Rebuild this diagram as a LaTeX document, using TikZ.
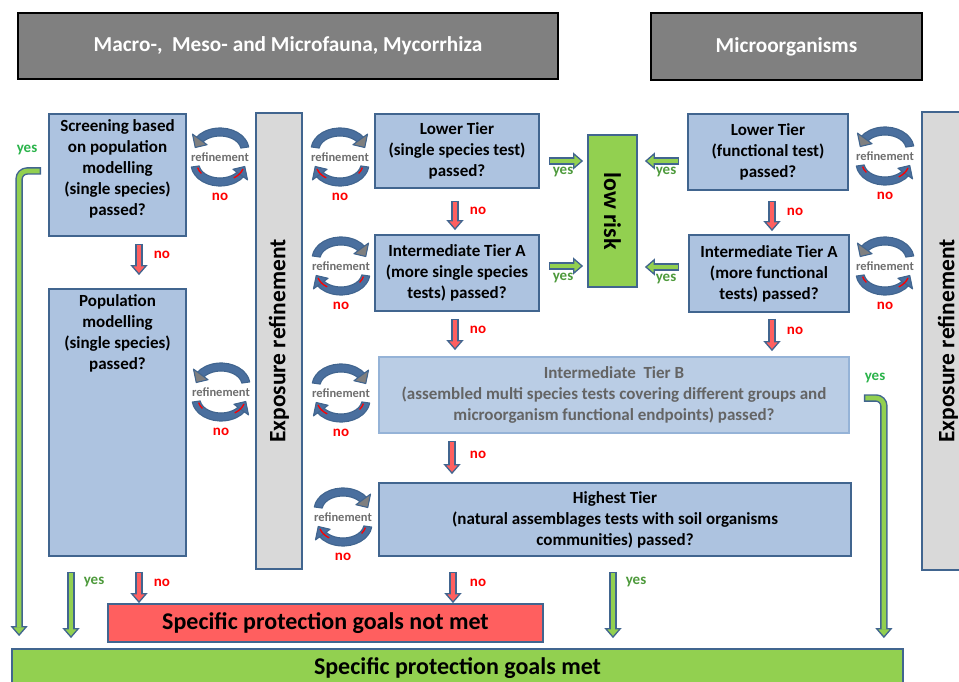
\documentclass[tikz,border=0pt]{standalone}
\usepackage{fontspec}
\setmainfont{Carlito}
\usepackage{graphicx}
\usepackage{tikz}
\usetikzlibrary{arrows.meta,calc,positioning}
\usepackage{xcolor}
\definecolor{edgeblue}{HTML}{41658F}
\definecolor{loopblue}{HTML}{4A6F9E}
\definecolor{boxblue}{HTML}{ADC3E0}
\definecolor{paleblue}{HTML}{BACDE5}
\definecolor{paleedge}{HTML}{95B3D7}
\definecolor{tiergray}{HTML}{646464}
\definecolor{riskgreen}{HTML}{92D050}
\definecolor{notred}{HTML}{FF5F5F}
\definecolor{bargray}{HTML}{D9D9D9}
\definecolor{headgray}{HTML}{808080}
\definecolor{yesgreen}{HTML}{4E9A3C}
\definecolor{yesbright}{HTML}{2BB34B}
\definecolor{loopgray}{HTML}{7F7F7F}
\definecolor{reftext}{HTML}{6E6E6E}
\tikzstyle{tierbox}=[draw=edgeblue, fill=boxblue, line width=1.8pt, align=center, inner sep=0pt, font=\bfseries\fontsize{17}{21}\selectfont]
\tikzstyle{paletier}=[tierbox, draw=paleedge, fill=paleblue, text=tiergray]
\tikzstyle{headbox}=[draw=black, fill=headgray, line width=1.6pt, text=white, font=\bfseries\fontsize{21.3}{25}\selectfont]
\tikzstyle{expbar}=[draw=edgeblue, fill=bargray, line width=1.8pt, inner sep=0pt, font=\bfseries\fontsize{23.5}{27}\selectfont]
\tikzstyle{goalbox}=[draw=edgeblue, line width=1.8pt, inner sep=0pt, font=\bfseries\fontsize{24}{28}\selectfont]
\tikzstyle{nolabel}=[text=red, inner sep=0pt, font=\bfseries\fontsize{15}{18}\selectfont]
\tikzstyle{yeslabel}=[text=yesgreen, inner sep=0pt, font=\bfseries\fontsize{15}{18}\selectfont]
\tikzstyle{reflabel}=[text=reftext, inner sep=0pt, font=\bfseries\fontsize{12.5}{15}\selectfont]
\tikzstyle{loopedge}=[draw=edgeblue, line width=1.1pt, line join=round]
% fat outlined arrow along a path
\newcommand{\fatpath}[3][]{
	\draw[#1, line width=7.5pt, draw=edgeblue, -{Triangle[length=10pt, width=17pt, line width=1.3pt, fill=#2]}] #3;
	\draw[#1, line width=4.6pt, draw=#2, shorten <=1.4pt, shorten >=8.5pt] #3;
}
% refinement cycle: #1 name, #2 x, #3 y, #4 1 anticlockwise / -1 clockwise
\newcommand{\refloop}[4]{
	\begin{scope}[shift={(#2,#3)}, yscale=-1, xscale=#4]
		\begin{scope}[shift={(0,7)}]
			\filldraw[loopedge, fill=loopblue] (8:29 and 22) arc[start angle=8, end angle=146, x radius=29, y radius=22]
				-- (146:21 and 14) arc[start angle=146, end angle=8, x radius=21, y radius=14] -- cycle;
			\filldraw[loopedge, fill=loopgray] (144:34 and 27) -- (172:25 and 18) -- (144:16 and 9) -- cycle;
		\end{scope}
		\begin{scope}[shift={(0,-7)}]
			\filldraw[loopedge, fill=loopblue] (188:29 and 22) arc[start angle=188, end angle=326, x radius=29, y radius=22]
				-- (326:21 and 14) arc[start angle=326, end angle=188, x radius=21, y radius=14] -- cycle;
			\filldraw[loopedge, fill=loopblue] (324:34 and 27) -- (352:25 and 18) -- (324:16 and 9) -- cycle;
			\draw[red, line width=1.3pt] (193:23 and 16) arc[start angle=193, end angle=216, x radius=23, y radius=16];
			\draw[red, line width=1.3pt] (305:24 and 17) arc[start angle=305, end angle=343, x radius=24, y radius=17];
		\end{scope}
	\end{scope}
	\node[reflabel] (#1) at (#2,#3) {refinement};
	\node[nolabel] (#1no) at (#2,#3+40) {no};
}

\begin{document}
\begin{tikzpicture}[x=1pt,y=-1pt]
	\useasboundingbox (0,0) rectangle (959,682);
	\clip (0,0) rectangle (959,682);
	% headers
	\node[headbox, minimum width=540pt, minimum height=66pt] (fauna) at (288,46) {Macro-,\ \ Meso- and Microfauna, Mycorrhiza};
	\node[headbox, minimum width=271pt, minimum height=67pt] (micro) at (786.5,46.5) {Microorganisms};
	% left column
	\node[tierbox, minimum width=137pt, minimum height=122pt] (scr) at (117.5,175) {};
	\node[tierbox, draw=none, fill=none, below=6pt of scr.north] (scrtxt) {Screening based\\on population\\modelling\\(single species)\\passed?};
	\node[tierbox, minimum width=137pt, minimum height=267pt] (pop) at (117.5,422.5) {};
	\node[tierbox, draw=none, fill=none, below=6pt of pop.north] (poptxt) {Population\\modelling\\(single species)\\passed?};
	\node[expbar, minimum width=46pt, minimum height=456pt] (expL) at (279,341) {\rotatebox{90}{Exposure refinement}};
	% tiers
	\node[tierbox, minimum width=164pt, minimum height=74pt] (lowL) at (457,151) {Lower Tier\\(single species test)\\passed?};
	\node[tierbox, minimum width=164pt, minimum height=76pt] (intAL) at (457,273) {Intermediate Tier A\\(more single species\\tests) passed?};
	\node[tierbox, fill=riskgreen, minimum width=49pt, minimum height=152pt, font=\bfseries\fontsize{24}{28}\selectfont] (risk) at (612.5,211) {\rotatebox{-90}{low risk}};
	\node[tierbox, minimum width=160pt, minimum height=76pt] (lowR) at (768,152) {Lower Tier\\(functional test)\\passed?};
	\node[tierbox, minimum width=160pt, minimum height=77pt] (intAR) at (769,273.5) {Intermediate Tier A\\(more functional\\tests) passed?};
	\node[paletier, minimum width=470pt, minimum height=76pt] (intB) at (614,395) {Intermediate\ \ Tier B\\(assembled multi species tests covering different groups and\\microorganism functional endpoints) passed?};
	\node[tierbox, minimum width=472pt, minimum height=73pt] (high) at (615,519.5) {Highest Tier\\(natural assemblages tests with soil organisms\\communities) passed?};
	\node[expbar, minimum width=52pt, minimum height=458pt] (expR) at (948,341) {\rotatebox{90}{Exposure refinement}};
	% goals
	\node[goalbox, fill=notred, minimum width=435pt, minimum height=38pt] (notmet) at (325.5,623) {Specific protection goals not met};
	\node[goalbox, fill=riskgreen, minimum width=891pt, minimum height=39pt] (met) at (457.5,668.5) {Specific protection goals met};
	% refinement cycles
	\refloop{refA}{220}{157}{1}
	\refloop{refB}{221}{392}{1}
	\refloop{refC}{340}{157}{-1}
	\refloop{refD}{341}{266}{-1}
	\refloop{refE}{341}{393}{-1}
	\refloop{refF}{343}{517}{-1}
	\refloop{refG}{885}{156}{1}
	\refloop{refH}{885}{266}{1}
	% no arrows
	\fatpath{notred}{($(scr.south)+(21.5,7)$) -- ($(pop.north)+(21.5,-13)$)}
	\fatpath{notred}{($(lowL.south)+(-2,12)$) -- ($(intAL.north)+(-2,-4)$)}
	\fatpath{notred}{($(intAL.south)+(-2,7)$) -- ($(intAL.south |- intB.north)+(-2,-6)$)}
	\fatpath{notred}{($(lowR.south)+(4,10)$) -- ($(lowR.south |- intAR.north)+(4,-3)$)}
	\fatpath{notred}{($(intAR.south)+(3,6)$) -- ($(intAR.south |- intB.north)+(3,-5)$)}
	\fatpath{notred}{($(intB.south)+(-162,7)$) -- ($(intB.south |- high.north)+(-162,-8)$)}
	\fatpath{notred}{($(high.south)+(-162,15)$) -- ($(high.south |- notmet.north)+(-162,0)$)}
	\fatpath{notred}{($(pop.south)+(21.5,15)$) -- ($(pop.south |- notmet.north)+(21.5,0)$)}
	\node[nolabel] (no1) at (162,255) {no};
	\node[nolabel] (no2) at (478,211) {no};
	\node[nolabel] (no3) at (478,330) {no};
	\node[nolabel] (no4) at (795,212) {no};
	\node[nolabel] (no5) at (795,331) {no};
	\node[nolabel] (no6) at (478,455) {no};
	\node[nolabel] (no7) at (478,583) {no};
	\node[nolabel] (no8) at (162,583) {no};
	% yes arrows
	\fatpath{riskgreen}{($(pop.south)+(-46.5,15)$) -- ($(pop.south |- met.north)+(-46.5,-10)$)}
	\fatpath{riskgreen}{($(high.south)+(-2,15)$) -- ($(high.south |- met.north)+(-2,-10)$)}
	\fatpath{riskgreen}{($(lowL.east)+(9,10)$) -- ($(lowL.east -| risk.west)+(-4,10)$)}
	\fatpath{riskgreen}{($(intAL.east)+(9,-7)$) -- ($(intAL.east -| risk.west)+(-4,-7)$)}
	\fatpath{riskgreen}{($(lowR.west)+(-8,9)$) -- ($(lowR.west -| risk.east)+(7,9)$)}
	\fatpath{riskgreen}{($(intAR.west)+(-9,-6.5)$) -- ($(intAR.west -| risk.east)+(7,-6.5)$)}
	\fatpath[rounded corners=8pt]{riskgreen}{($(scr.west)+(-7,-4)$) -- ($(scr.west)+(-29,-4)$) -- ($(scr.west |- met.north)+(-29,-12)$)}
	\fatpath[rounded corners=8pt]{riskgreen}{($(intB.east)+(14,3)$) -- ($(intB.east)+(34,3)$) -- ($(intB.east |- met.north)+(34,-10)$)}
	\node[yeslabel] (yes1) at (94,582) {yes};
	\node[yeslabel] (yes2) at (636,582) {yes};
	\node[yeslabel] (yes3) at (563,172) {yes};
	\node[yeslabel] (yes4) at (563,278) {yes};
	\node[yeslabel] (yes5) at (666,172) {yes};
	\node[yeslabel] (yes6) at (666,279) {yes};
	\node[yeslabel, text=yesbright] (yes7) at (27,150) {yes};
	\node[yeslabel, text=yesbright] (yes8) at (875,378) {yes};
\end{tikzpicture}
\end{document}
